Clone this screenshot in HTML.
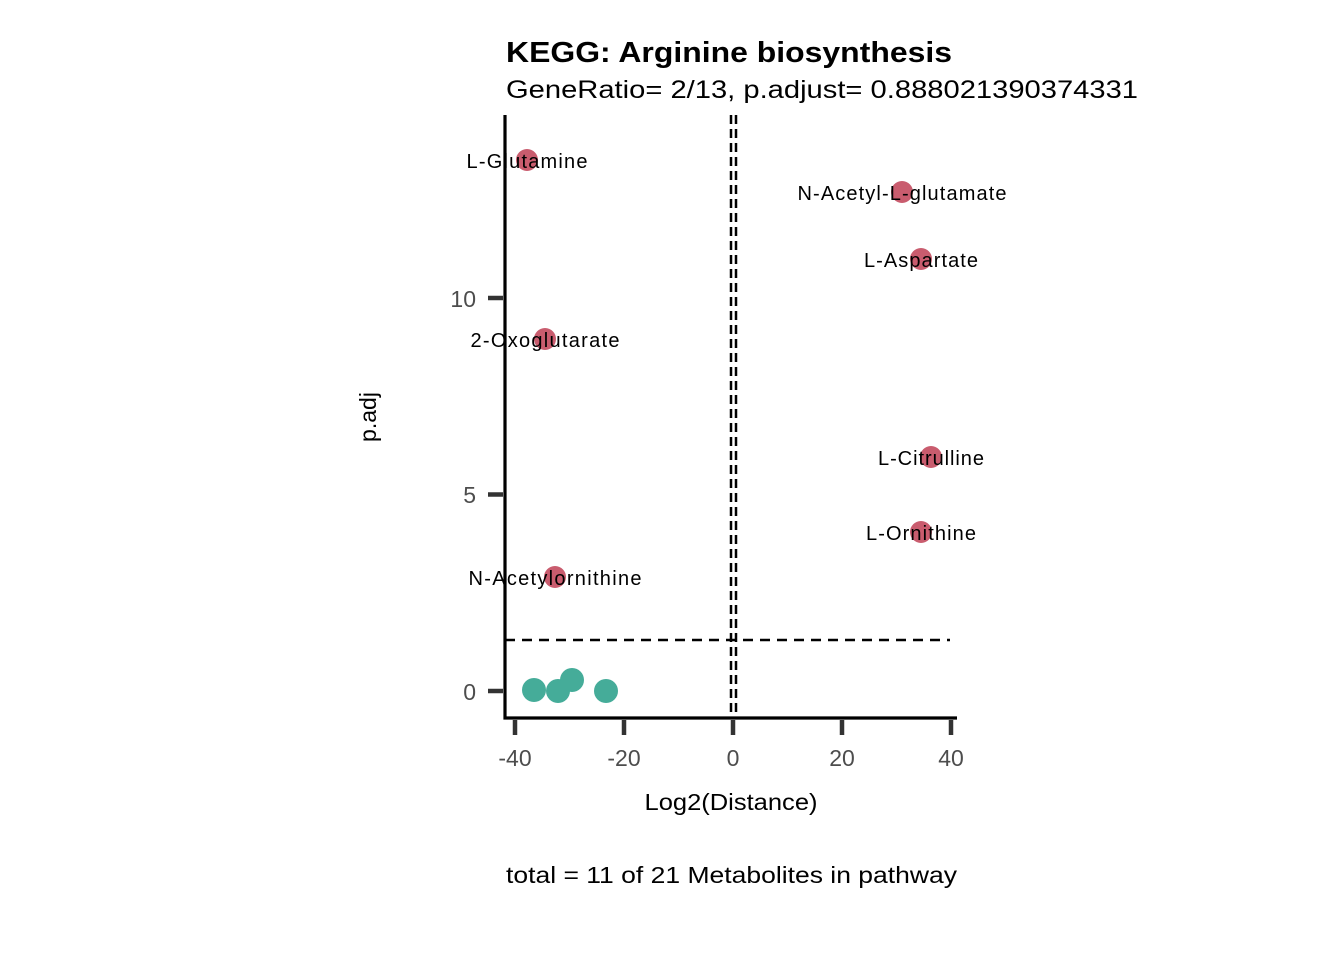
<!DOCTYPE html>
<html><head><style>body{margin:0;background:#fff}svg{display:block}text{font-family:"Liberation Sans",sans-serif}</style></head>
<body>
<svg width="1344" height="960" xmlns="http://www.w3.org/2000/svg">
<text x="506" y="62" font-size="29" font-weight="bold" fill="#000" textLength="446" lengthAdjust="spacingAndGlyphs">KEGG: Arginine biosynthesis</text>
<text x="506" y="98" font-size="25" fill="#000" textLength="632" lengthAdjust="spacingAndGlyphs">GeneRatio= 2/13, p.adjust= 0.888021390374331</text>
<g stroke="#000" stroke-width="2.5" stroke-dasharray="9,5" fill="none">
<line x1="505" y1="640" x2="950" y2="640" stroke-dasharray="10,7"/>
<line x1="731" y1="115" x2="731" y2="718"/>
<line x1="736" y1="115" x2="736" y2="718"/>
</g>
<g fill="#45AC99">
<circle cx="534" cy="690" r="12"/><circle cx="558" cy="691" r="12"/><circle cx="572" cy="680" r="12"/><circle cx="606" cy="691" r="12"/>
</g>
<g fill="#C95C6E">
<circle cx="527" cy="160" r="11"/><circle cx="902" cy="192" r="11"/><circle cx="921" cy="259" r="11"/><circle cx="545" cy="339" r="11"/><circle cx="931" cy="457" r="11"/><circle cx="921" cy="532" r="11"/><circle cx="555" cy="577" r="11"/>
</g>
<g font-size="20" fill="#000" text-anchor="middle" lengthAdjust="spacingAndGlyphs">
<text x="527" y="168" textLength="121">L-Glutamine</text>
<text x="902" y="200" textLength="209">N-Acetyl-L-glutamate</text>
<text x="921" y="267" textLength="114">L-Aspartate</text>
<text x="545" y="347" textLength="149">2-Oxoglutarate</text>
<text x="931" y="465" textLength="106">L-Citrulline</text>
<text x="921" y="540" textLength="110">L-Ornithine</text>
<text x="555" y="585" textLength="173">N-Acetylornithine</text>
</g>
<path d="M505,115 V718 H957" stroke="#000" stroke-width="3.2" fill="none"/>
<g stroke="#333" stroke-width="4.5">
<line x1="488" y1="298" x2="503" y2="298"/><line x1="488" y1="494.5" x2="503" y2="494.5"/><line x1="488" y1="691" x2="503" y2="691"/>
<line x1="515" y1="720" x2="515" y2="735"/><line x1="624" y1="720" x2="624" y2="735"/><line x1="733" y1="720" x2="733" y2="735"/><line x1="842" y1="720" x2="842" y2="735"/><line x1="951" y1="720" x2="951" y2="735"/>
</g>
<g font-size="23" fill="#4d4d4d">
<g text-anchor="end"><text x="476" y="307">10</text><text x="476" y="503">5</text><text x="476" y="700">0</text></g>
<g text-anchor="middle"><text x="515" y="766">-40</text><text x="624" y="766">-20</text><text x="733" y="766">0</text><text x="842" y="766">20</text><text x="951" y="766">40</text></g>
</g>
<text x="731" y="810" font-size="23" text-anchor="middle" fill="#000" textLength="173" lengthAdjust="spacingAndGlyphs">Log2(Distance)</text>
<text transform="translate(376,417) rotate(-90)" font-size="23" text-anchor="middle" fill="#000">p.adj</text>
<text x="506" y="883" font-size="23" fill="#000" textLength="451" lengthAdjust="spacingAndGlyphs">total = 11 of 21 Metabolites in pathway</text>
</svg>
</body></html>
